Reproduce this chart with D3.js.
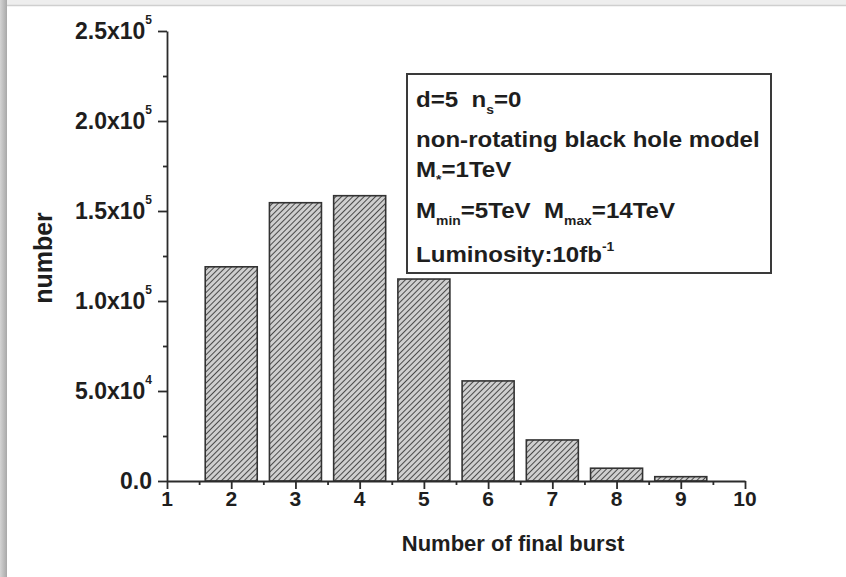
<!DOCTYPE html>
<html>
    <head>
       <script src="https://d3js.org/d3.v7.min.js"></script>
<style>
body { margin: 0; background: #fff; }
#canvas > svg { display: block; }
.axis path,
.axis line {
    fill: none;
    stroke: #2b2b2b;
    stroke-width: 1.8px;
}
text {
    font-family: "Liberation Sans", Arial, sans-serif;
    font-weight: bold;
    fill: #1e1e1e;
    white-space: pre;
}
</style>
    </head>
    <body>
	<div id="canvas"></div>

<script type="text/javascript">
    // data
    var bursts = [2, 3, 4, 5, 6, 7, 8, 9];
    var counts = [119000, 154600, 158500, 112200, 55600, 22800, 7100, 2400];
    var xTicks = [1, 2, 3, 4, 5, 6, 7, 8, 9, 10];
    var yTicks = [0, 50000, 100000, 150000, 200000, 250000];
    var yTickMant = ["0.0", "5.0x10", "1.0x10", "1.5x10", "2.0x10", "2.5x10"];
    var yTickExp = ["", "4", "5", "5", "5", "5"];
    var legendLines = [
        [["d=5  n", ""], ["s", "sub"], ["=0", ""]],
        [["non-rotating black hole model", ""]],
        [["M", ""], ["*", "sub"], ["=1TeV", ""]],
        [["M", ""], ["min", "sub"], ["=5TeV  M", ""], ["max", "sub"], ["=14TeV", ""]],
        [["Luminosity:10fb", ""], ["-1", "sup"]]
    ];

    var width = 846,
        height = 577,
        svg = d3.select("#canvas")
            .append("svg")
            .attr("width", width)
            .attr("height", height);

    // frame of the screenshot
    var grad = svg.append("defs").append("linearGradient").attr("id", "leftEdge");
    grad.append("stop").attr("offset", "0%").attr("stop-color", "#d4d4d4");
    grad.append("stop").attr("offset", "100%").attr("stop-color", "#a8a8a8");
    svg.append("rect").attr("x", 0).attr("y", 0).attr("width", width).attr("height", 5).attr("fill", "#eeeeee");
    svg.append("line").attr("x1", 0).attr("x2", width).attr("y1", 5.5).attr("y2", 5.5).attr("stroke", "#cfcfcf").attr("stroke-width", 1.5);
    svg.append("rect").attr("x", 0).attr("y", 0).attr("width", 7).attr("height", height).attr("fill", "url(#leftEdge)");

    // hatch pattern of the bars
    var pat = svg.select("defs").append("pattern")
        .attr("id", "hatch")
        .attr("patternUnits", "userSpaceOnUse")
        .attr("width", 4).attr("height", 4)
        .attr("patternTransform", "rotate(45)");
    pat.append("rect").attr("width", 4).attr("height", 4).attr("fill", "#cfcfcf");
    pat.append("line").attr("x1", 0).attr("y1", 0).attr("x2", 0).attr("y2", 4)
        .attr("stroke", "#4a4a4a").attr("stroke-width", 2);

    var xScale = d3.scaleLinear().domain([1, 10]).range([167, 745]);
    var yScale = d3.scaleLinear().domain([0, 250000]).range([481, 31]);
    var barW = 0.81;

    svg.selectAll("rect.bar")
        .data(counts)
        .enter().append("rect")
        .attr("class", "bar")
        .attr("x", function(d, i) { return xScale(bursts[i] - barW / 2); })
        .attr("width", xScale(1 + barW) - xScale(1))
        .attr("y", function(d) { return yScale(d); })
        .attr("height", function(d) { return yScale(0) - yScale(d); })
        .attr("fill", "url(#hatch)")
        .attr("stroke", "#333")
        .attr("stroke-width", 1.6);

    // axes: major and minor ticks
    var minorX = d3.range(1.5, 10, 1);
    var minorY = d3.range(25000, 250000, 50000);

    svg.append("g")
       .attr("class", "axis")
       .attr("transform", "translate(0," + yScale(0) + ")")
       .call(d3.axisBottom(xScale).tickValues(xTicks).tickSize(8).tickSizeOuter(0).tickFormat(""));
    svg.append("g")
       .attr("class", "axis")
       .attr("transform", "translate(0," + yScale(0) + ")")
       .call(d3.axisBottom(xScale).tickValues(minorX).tickSize(4).tickSizeOuter(0).tickFormat(""))
       .select(".domain").remove();
    svg.append("g")
       .attr("class", "axis")
       .attr("transform", "translate(" + xScale(1) + ",0)")
       .call(d3.axisLeft(yScale).tickValues(yTicks).tickSize(9).tickSizeOuter(0).tickFormat(""));
    svg.append("g")
       .attr("class", "axis")
       .attr("transform", "translate(" + xScale(1) + ",0)")
       .call(d3.axisLeft(yScale).tickValues(minorY).tickSize(4).tickSizeOuter(0).tickFormat(""))
       .select(".domain").remove();

    // x tick labels
    svg.selectAll("text.xt")
        .data(xTicks)
        .enter().append("text")
        .attr("class", "xt")
        .attr("x", function(d) { return xScale(d); })
        .attr("y", yScale(0) + 25)
        .attr("text-anchor", "middle")
        .style("font-size", "21px")
        .text(function(d) { return d; });

    // y tick labels with powers of ten
    var yl = svg.selectAll("text.yt")
        .data(yTicks)
        .enter().append("text")
        .attr("class", "yt")
        .attr("x", 152)
        .attr("y", function(d) { return yScale(d) + 8; })
        .attr("text-anchor", "end")
        .style("font-size", "23px");
    yl.append("tspan").text(function(d, i) { return yTickMant[i]; });
    yl.append("tspan")
        .attr("dy", -15)
        .style("font-size", "12px")
        .text(function(d, i) { return yTickExp[i]; });

    // axis titles
    svg.append("text")
        .attr("x", 513)
        .attr("y", 551)
        .attr("text-anchor", "middle")
        .style("font-size", "22px")
        .text("Number of final burst");
    svg.append("text")
        .attr("transform", "translate(52,258) rotate(-90)")
        .attr("text-anchor", "middle")
        .style("font-size", "25px")
        .text("number");

    // legend box
    svg.append("rect")
        .attr("x", 407).attr("y", 74)
        .attr("width", 364).attr("height", 199)
        .attr("fill", "none")
        .attr("stroke", "#3a3a3a")
        .attr("stroke-width", 2);

    var lineY = [107, 147, 177, 218, 262];
    legendLines.forEach(function(parts, k) {
        var t = svg.append("text")
            .attr("transform", "translate(416," + lineY[k] + ") scale(1.07,1)")
            .style("font-size", "22.5px");
        var shift = 0;
        parts.forEach(function(p) {
            var want = p[1] == "sub" ? 7 : (p[1] == "sup" ? -11 : 0);
            t.append("tspan")
                .attr("dy", want - shift)
                .style("font-size", p[1] == "" ? "22.5px" : "13px")
                .text(p[0]);
            shift = want;
        });
    });
</script>
    </body>
</html>
